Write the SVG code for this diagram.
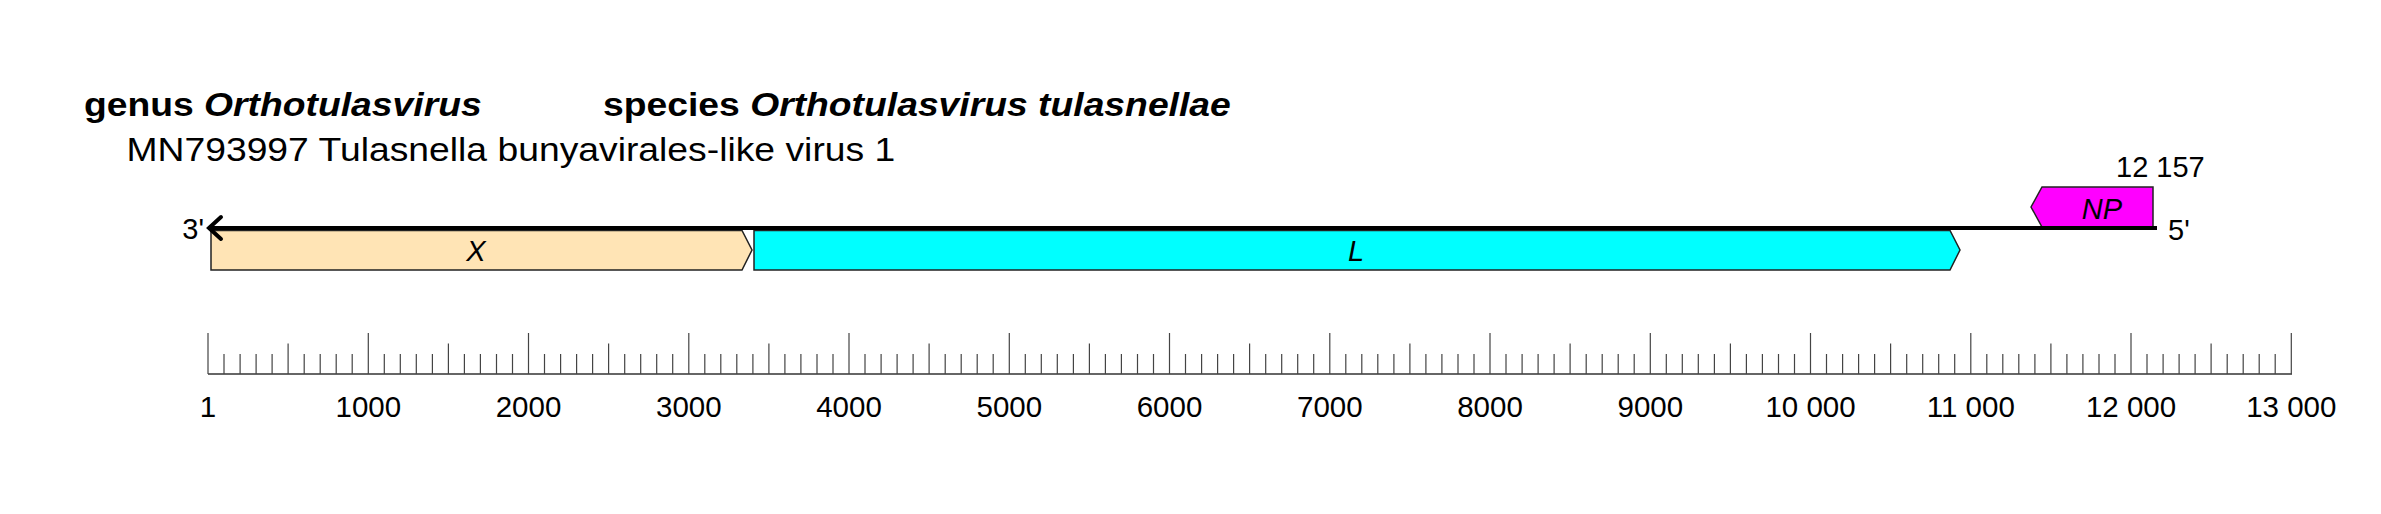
<svg xmlns="http://www.w3.org/2000/svg" width="2381" height="514" viewBox="0 0 2381 514">
<style>
text{font-family:"Liberation Sans",Arial,sans-serif;fill:#000}
.ttl{font-size:33px;font-weight:bold}
.it{font-style:italic}
.sub{font-size:33px}
.lbl{font-size:29px}
.rl{font-size:29.5px}
.gene{stroke:#222;stroke-width:1.5}
.tk{stroke:#444;stroke-width:1.2}
</style>
<rect width="2381" height="514" fill="#fff"/>
<g id="title">
<text class="ttl" transform="scale(1.13,1)" x="74.3" y="116">genus  <tspan class="it">Orthotulasvirus</tspan></text>
<text class="ttl" transform="scale(1.13,1)" x="533.6" y="116">species <tspan class="it">Orthotulasvirus tulasnellae</tspan></text>
<text class="sub" transform="scale(1.13,1)" x="111.9" y="161">MN793997 Tulasnella bunyavirales-like virus 1</text>
</g>
<g id="gene-X">
<polygon class="gene" points="211,230.5 742,230.5 752,250 742,270 211,270" fill="#FFE4B5"/>
<text class="lbl it" x="476" y="261" text-anchor="middle">X</text>
</g>
<g id="gene-L">
<polygon class="gene" points="754,230.5 1950,230.5 1960,250 1950,270 754,270" fill="#00FFFF"/>
<text class="lbl it" x="1356" y="261" text-anchor="middle">L</text>
</g>
<g id="gene-NP">
<polygon class="gene" points="2031,207 2042,187 2153,187 2153,227 2042,227" fill="#FF00FF"/>
<text class="lbl it" x="2102" y="219" text-anchor="middle">NP</text>
</g>
<g id="connectors">
<line x1="210" y1="228" x2="2157" y2="228" stroke="#000" stroke-width="4"/>
<polyline points="221,217 209,228 221,239" fill="none" stroke="#000" stroke-width="4" stroke-linejoin="miter" stroke-linecap="round"/>
</g>
<text class="lbl" x="204" y="239" text-anchor="end">3'</text>
<text class="lbl" x="2168" y="240">5'</text>
<text class="lbl" x="2116" y="177">12 157</text>
<g id="ruler">
<line x1="208" y1="374" x2="2292" y2="374" stroke="#333" stroke-width="1.6"/>
<g class="tk">
<path d="M208.0 374V333M224.0 374V354M240.1 374V354M256.1 374V354M272.1 374V354M288.1 374V343.5M304.2 374V354M320.2 374V354M336.2 374V354M352.2 374V354M368.3 374V333M384.3 374V354M400.3 374V354M416.3 374V354M432.4 374V354M448.4 374V343.5M464.4 374V354M480.4 374V354M496.5 374V354M512.5 374V354M528.5 374V333M544.5 374V354M560.6 374V354M576.6 374V354M592.6 374V354M608.6 374V343.5M624.7 374V354M640.7 374V354M656.7 374V354M672.7 374V354M688.8 374V333M704.8 374V354M720.8 374V354M736.8 374V354M752.9 374V354M768.9 374V343.5M784.9 374V354M800.9 374V354M817.0 374V354M833.0 374V354M849.0 374V333M865.0 374V354M881.1 374V354M897.1 374V354M913.1 374V354M929.1 374V343.5M945.2 374V354M961.2 374V354M977.2 374V354M993.2 374V354M1009.3 374V333M1025.3 374V354M1041.3 374V354M1057.3 374V354M1073.4 374V354M1089.4 374V343.5M1105.4 374V354M1121.4 374V354M1137.5 374V354M1153.5 374V354M1169.5 374V333M1185.5 374V354M1201.6 374V354M1217.6 374V354M1233.6 374V354M1249.6 374V343.5M1265.7 374V354M1281.7 374V354M1297.7 374V354M1313.7 374V354M1329.8 374V333M1345.8 374V354M1361.8 374V354M1377.8 374V354M1393.9 374V354M1409.9 374V343.5M1425.9 374V354M1441.9 374V354M1458.0 374V354M1474.0 374V354M1490.0 374V333M1506.0 374V354M1522.1 374V354M1538.1 374V354M1554.1 374V354M1570.1 374V343.5M1586.2 374V354M1602.2 374V354M1618.2 374V354M1634.2 374V354M1650.3 374V333M1666.3 374V354M1682.3 374V354M1698.3 374V354M1714.4 374V354M1730.4 374V343.5M1746.4 374V354M1762.4 374V354M1778.5 374V354M1794.5 374V354M1810.5 374V333M1826.5 374V354M1842.6 374V354M1858.6 374V354M1874.6 374V354M1890.6 374V343.5M1906.7 374V354M1922.7 374V354M1938.7 374V354M1954.7 374V354M1970.8 374V333M1986.8 374V354M2002.8 374V354M2018.8 374V354M2034.9 374V354M2050.9 374V343.5M2066.9 374V354M2082.9 374V354M2099.0 374V354M2115.0 374V354M2131.0 374V333M2147.0 374V354M2163.1 374V354M2179.1 374V354M2195.1 374V354M2211.1 374V343.5M2227.2 374V354M2243.2 374V354M2259.2 374V354M2275.2 374V354M2291.3 374V333"/>
</g>
<g class="rl" text-anchor="middle">
<text x="208" y="417">1</text>
<text x="368.3" y="417">1000</text>
<text x="528.5" y="417">2000</text>
<text x="688.8" y="417">3000</text>
<text x="849.0" y="417">4000</text>
<text x="1009.3" y="417">5000</text>
<text x="1169.5" y="417">6000</text>
<text x="1329.8" y="417">7000</text>
<text x="1490.0" y="417">8000</text>
<text x="1650.3" y="417">9000</text>
<text x="1810.5" y="417">10 000</text>
<text x="1970.8" y="417">11 000</text>
<text x="2131.0" y="417">12 000</text>
<text x="2291.3" y="417">13 000</text>
</g>
</g>
</svg>
